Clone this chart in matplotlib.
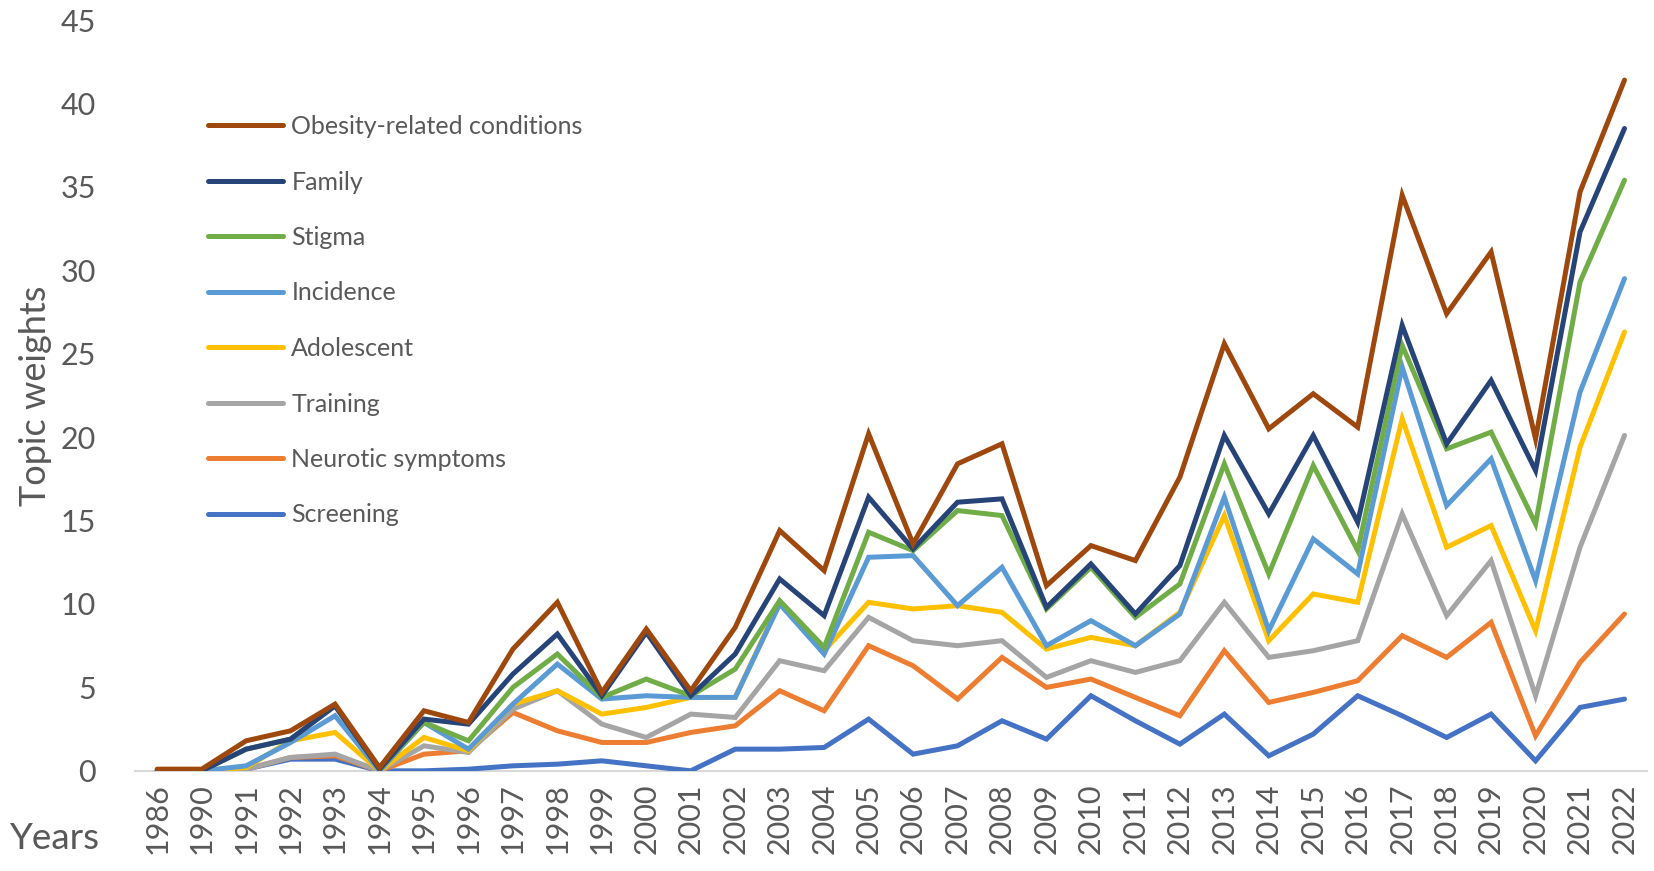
import matplotlib
matplotlib.use("Agg")
import numpy as np
from matplotlib import pyplot as plt

plt.rcParams['font.family'] = ['Lato', 'DejaVu Sans']

years = ['1986', '1990', '1991', '1992', '1993', '1994', '1995', '1996', '1997', '1998',
         '1999', '2000', '2001', '2002', '2003', '2004', '2005', '2006', '2007', '2008',
         '2009', '2010', '2011', '2012', '2013', '2014', '2015', '2016', '2017', '2018',
         '2019', '2020', '2021', '2022']

obesity = [0.1, 0.1, 1.8, 2.4, 4.0, 0.2, 3.6, 2.9, 7.3, 10.1, 4.7, 8.5, 4.8, 8.6, 14.4, 12.0,
           20.2, 13.6, 18.4, 19.6, 11.1, 13.5, 12.6, 17.6, 25.6, 20.5, 22.6, 20.6, 34.5, 27.4,
           31.1, 19.9, 34.7, 41.4]
family = [0.0, 0.0, 1.3, 1.9, 3.9, 0.1, 3.1, 2.8, 5.8, 8.2, 4.5, 8.3, 4.5, 7.0, 11.5, 9.3,
          16.4, 13.3, 16.1, 16.3, 9.8, 12.4, 9.4, 12.3, 20.1, 15.4, 20.1, 14.9, 26.7, 19.6,
          23.4, 18.0, 32.3, 38.5]
stigma = [0.0, 0.0, 1.3, 1.9, 3.9, 0.1, 2.9, 1.8, 5.0, 7.0, 4.4, 5.5, 4.5, 6.1, 10.2, 7.4,
          14.3, 13.2, 15.6, 15.3, 9.7, 12.2, 9.2, 11.2, 18.4, 11.8, 18.3, 13.2, 25.5, 19.3,
          20.3, 14.8, 29.3, 35.4]
incidence = [0.0, 0.0, 0.3, 1.7, 3.3, 0.0, 2.9, 1.3, 4.0, 6.4, 4.3, 4.5, 4.4, 4.4, 10.0, 7.0,
             12.8, 12.9, 9.9, 12.2, 7.5, 9.0, 7.5, 9.4, 16.4, 8.4, 13.9, 11.8, 24.2, 15.9,
             18.7, 11.4, 22.7, 29.5]
adolescent = [0.0, 0.0, 0.2, 1.8, 2.3, 0.0, 2.0, 1.2, 4.0, 4.8, 3.4, 3.8, 4.4, 4.4, 10.1, 7.2,
              10.1, 9.7, 9.9, 9.5, 7.3, 8.0, 7.5, 9.5, 15.3, 7.8, 10.6, 10.1, 21.1, 13.4,
              14.7, 8.4, 19.4, 26.3]
training = [0.0, 0.0, 0.1, 0.8, 1.0, 0.0, 1.5, 1.1, 3.7, 4.8, 2.8, 2.0, 3.4, 3.2, 6.6, 6.0,
            9.2, 7.8, 7.5, 7.8, 5.6, 6.6, 5.9, 6.6, 10.1, 6.8, 7.2, 7.8, 15.4, 9.3,
            12.6, 4.5, 13.4, 20.1]
neurotic = [0.0, 0.0, 0.1, 0.8, 0.9, 0.0, 1.0, 1.2, 3.5, 2.4, 1.7, 1.7, 2.3, 2.7, 4.8, 3.6,
            7.5, 6.3, 4.3, 6.8, 5.0, 5.5, 4.4, 3.3, 7.2, 4.1, 4.7, 5.4, 8.1, 6.8,
            8.9, 2.1, 6.5, 9.4]
screening = [0.0, 0.0, 0.1, 0.7, 0.7, 0.0, 0.0, 0.1, 0.3, 0.4, 0.6, 0.3, 0.0, 1.3, 1.3, 1.4,
             3.1, 1.0, 1.5, 3.0, 1.9, 4.5, 3.0, 1.6, 3.4, 0.9, 2.2, 4.5, 3.3, 2.0,
             3.4, 0.6, 3.8, 4.3]

labels = ['Obesity-related conditions', 'Family', 'Stigma', 'Incidence', 'Adolescent',
          'Training', 'Neurotic symptoms', 'Screening']
series = [obesity, family, stigma, incidence, adolescent, training, neurotic, screening]
colors = ['#9E480E', '#264478', '#70AD47', '#5B9BD5', '#FFC000', '#A5A5A5', '#ED7D31', '#4472C4']

fig = plt.figure(figsize=(16.54, 8.71), dpi=100)
ax = fig.add_axes([0.0816, 0.115, 0.914, 0.862])

x = np.arange(len(years))
handles = [None] * len(series)
# draw bottom series first so the top ones sit above
for i in reversed(range(len(series))):
    h, = ax.plot(x, series[i], color=colors[i], lw=3.6, label=labels[i],
                 solid_joinstyle='miter', solid_capstyle='round', zorder=10 - i)
    handles[i] = h

ax.set_xlim(-0.5, len(years) - 0.5)
ax.set_ylim(0, 45)
ax.set_yticks(np.arange(0, 46, 5))
ax.set_xticks(x)
ax.set_xticklabels(years, rotation=90)
ax.tick_params(axis='y', length=0, pad=28, labelsize=22, labelcolor='#595959')
ax.tick_params(axis='x', length=0, pad=9, labelsize=22, labelcolor='#595959')

for s in ['top', 'right', 'left']:
    ax.spines[s].set_visible(False)
ax.spines['bottom'].set_color('#D9D9D9')
ax.spines['bottom'].set_linewidth(1.5)

fig.text(36 / 1654, 1 - 396 / 871, 'Topic weights', rotation=90, ha='center', va='center',
         fontsize=26, color='#595959')
fig.text(9 / 1654, 1 - 838 / 871, 'Years', ha='left', va='center',
         fontsize=26.5, color='#595959')

leg = ax.legend(handles=handles, loc='upper left', bbox_to_anchor=(208 / 1654, 1 - 115 / 871),
                bbox_transform=fig.transFigure, frameon=False, fontsize=18, handlelength=3.0,
                handletextpad=0.33, labelspacing=1.3, borderpad=0, borderaxespad=0)
for t in leg.get_texts():
    t.set_color('#595959')

fig.savefig('out.png', dpi=100)
